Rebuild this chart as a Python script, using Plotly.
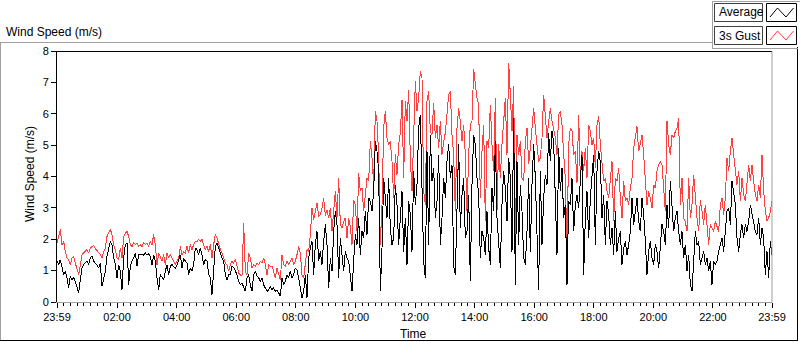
import plotly.graph_objects as go

# ---------------- data ----------------
# 430 evenly spaced readings from 23:59 to 23:59 the next day (about every 3.36 min)
n_samples = 430
sample_hours = [i * 24 / (n_samples - 1) for i in range(n_samples)]

avg_speed = [
    # 23:59 - 01:40
    1.30, 1.19, 1.35, 1.14, 0.87, 0.98, 0.77, 0.45, 0.82, 0.71, 0.77, 0.66, 0.50, 0.29, 0.71, 1.08, 1.19, 1.24,
    1.30, 1.19, 1.40, 1.46, 1.30, 1.24, 1.19, 1.08, 1.24, 0.50, 0.77, 0.98, 1.46, 1.72, 1.93, 1.83, 1.40, 1.19,
    0.77, 1.19, 0.98, 0.39, 1.40, 1.83, 1.88, 0.55, 1.14, 1.30, 1.40, 1.56, 1.14, 1.51,
    # segment 2
    1.51, 1.53, 1.49, 1.56, 1.49, 1.53, 1.46, 1.19, 1.51, 1.30, 0.77, 0.39, 0.87, 0.77, 0.71, 0.98, 1.19, 0.87,
    1.14, 1.19, 1.14, 1.08, 1.19, 1.35, 1.51, 1.08, 1.40, 1.30, 1.24, 0.87, 1.08, 0.98, 1.19, 1.72, 1.67, 1.51,
    1.72, 1.51, 1.19, 1.35, 1.30, 0.87, 0.77, 0.23, 1.14, 1.77, 1.88, 1.72, 1.51, 1.40, 1.30, 0.87, 0.71, 0.87,
    # segment 3
    0.87, 1.14, 1.11, 0.98, 0.87, 0.66, 0.55, 0.61, 0.45, 0.34, 0.77, 0.87, 0.55, 0.34, 0.87, 0.98, 0.82, 0.77,
    0.66, 0.77, 0.55, 0.45, 0.34, 0.39, 0.50, 0.39, 0.45, 0.34, 0.39, 0.29, 0.18, 0.77, 0.55, 0.66, 0.87, 0.77,
    0.98, 0.77, 0.87, 1.08, 1.03, 0.77, 0.45, 0.13, 0.34, 0.87, 0.13, 1.40, 1.72, 1.93, 0.87, 1.83, 2.25, 1.30,
    # segment 4
    1.61, 1.19, 1.93, 2.47, 1.83, 0.45, 1.40, 0.98, 2.25, 2.89, 2.47, 0.77, 2.04, 1.40, 0.98, 1.61, 1.40, 1.30,
    0.77, 0.34, 1.30, 2.15, 1.83, 2.68, 1.51, 2.25, 2.04, 2.89, 2.15, 3.32, 3.21, 2.89, 3.53, 5.12, 4.80, 4.17,
    0.34, 1.72, 3.95, 3.42, 2.68, 3.95, 2.36, 1.83, 2.04, 3.74, 3.10, 1.83, 2.89, 3.53, 1.61, 2.68, 1.19, 3.21,
    # segment 5
    2.78, 1.61, 4.17, 3.10, 3.74, 5.55, 5.97, 3.21, 1.30, 0.77, 4.80, 1.83, 5.33, 3.85, 4.27, 2.68, 3.21, 4.70,
    1.83, 2.68, 3.95, 3.32, 4.48, 5.02, 3.95, 4.38, 1.14, 0.87, 2.68, 5.02, 2.36, 3.42, 3.95, 2.04, 2.25, 3.42,
    0.66, 3.74, 5.33, 5.02, 3.95, 3.42, 1.40, 2.25, 2.04, 1.51, 2.89, 1.72, 1.19, 3.63, 2.89, 5.12, 2.68, 1.83,
    # segment 6
    1.08, 3.10, 4.17, 3.63, 2.57, 4.59, 3.95, 1.61, 5.87, 0.55, 4.48, 1.83, 3.74, 2.89, 1.40, 1.19, 2.25, 3.95,
    1.61, 3.74, 5.02, 3.95, 2.25, 0.39, 4.17, 1.83, 3.32, 4.06, 3.74, 5.40, 4.48, 5.44, 5.10, 2.89, 1.51, 4.91,
    3.53, 4.27, 2.68, 3.10, 0.55, 3.21, 3.10, 3.95, 2.25, 3.10, 3.42, 3.00, 3.74, 4.70, 0.87, 2.68, 3.53, 2.04,
    # segment 7
    3.32, 4.17, 4.70, 1.83, 4.17, 4.80, 4.48, 2.68, 3.42, 1.83, 3.21, 2.78, 1.83, 2.36, 1.51, 2.89, 1.61, 2.04,
    2.25, 1.19, 1.72, 1.93, 1.51, 1.83, 2.25, 3.32, 2.47, 2.89, 3.32, 2.57, 2.25, 3.32, 2.78, 1.93, 0.87, 1.61,
    1.93, 1.40, 1.19, 1.83, 1.61, 1.08, 1.93, 2.47, 2.25, 1.83, 3.10, 2.36, 3.85, 2.89, 2.25, 2.68, 2.89, 2.25,
    # segment 8 (to 23:59)
    1.83, 2.25, 1.40, 1.83, 0.98, 1.51, 0.55, 0.34, 1.40, 2.25, 1.83, 1.93, 1.19, 1.40, 1.61, 1.19, 1.40, 0.98,
    1.30, 0.55, 1.30, 1.19, 1.30, 1.61, 1.83, 2.04, 1.61, 2.36, 2.89, 3.00, 2.47, 3.85, 3.42, 3.10, 2.04, 1.61,
    2.15, 2.47, 2.04, 2.47, 2.25, 2.57, 3.10, 2.78, 2.47, 2.25, 2.15, 2.68, 1.83, 2.36, 2.04, 0.87, 1.61, 0.77,
    1.93, 1.51,
]

gust_speed = [
    # 23:59 - 01:40
    1.88, 2.09, 2.31, 1.83, 1.93, 1.61, 1.40, 1.35, 1.19, 1.40, 1.46, 1.24, 1.08, 0.87, 1.19, 1.51, 1.56, 1.61,
    1.67, 1.56, 1.72, 1.77, 1.80, 1.70, 1.63, 1.56, 1.51, 1.40, 1.61, 1.72, 2.09, 2.20, 2.31, 2.15, 1.83, 1.67,
    1.40, 1.35, 1.72, 1.40, 2.09, 2.20, 2.25, 2.09, 1.83, 1.77, 1.88, 1.83, 1.88, 1.77,
    # segment 2
    1.83, 1.77, 1.88, 1.83, 1.88, 1.77, 1.93, 1.83, 2.15, 1.83, 1.19, 1.56, 1.40, 1.30, 1.51, 1.19, 1.56, 1.40,
    1.51, 1.40, 1.30, 1.19, 1.30, 1.40, 1.77, 1.51, 1.61, 1.56, 1.77, 1.56, 1.83, 1.67, 1.83, 1.93, 1.93, 1.99,
    1.93, 1.99, 1.83, 1.67, 1.77, 1.61, 1.83, 1.40, 1.83, 2.15, 2.04, 1.83, 1.67, 1.56, 1.40, 1.24, 1.19, 0.98,
    # segment 3
    1.19, 1.30, 1.24, 1.35, 1.14, 0.92, 0.87, 0.82, 2.52, 0.98, 0.87, 1.56, 1.40, 1.08, 1.19, 1.14, 1.24, 1.19,
    1.30, 1.24, 1.40, 1.19, 0.87, 1.19, 1.14, 1.14, 0.98, 0.77, 1.08, 0.87, 0.71, 1.51, 1.19, 1.14, 1.30, 1.19,
    1.30, 1.40, 1.19, 1.30, 1.51, 1.77, 1.56, 0.87, 0.77, 1.19, 1.67, 1.61, 2.15, 3.00, 2.62, 2.89, 3.16, 2.73,
    # segment 4
    2.78, 3.00, 3.32, 2.75, 2.94, 2.68, 3.00, 2.25, 2.89, 3.53, 2.68, 3.95, 2.47, 2.36, 2.57, 2.68, 2.04, 2.68,
    2.41, 1.83, 3.26, 3.10, 2.25, 4.11, 3.53, 3.63, 2.89, 3.53, 3.95, 3.85, 5.12, 4.59, 3.74, 6.08, 5.76, 4.70,
    1.83, 3.10, 5.55, 6.08, 5.23, 5.02, 5.12, 4.48, 3.32, 4.70, 4.06, 5.02, 5.39, 6.45, 3.95, 6.40, 5.76, 6.77,
    # segment 5
    4.59, 3.53, 5.76, 7.04, 6.08, 6.50, 7.35, 7.14, 3.53, 3.10, 6.40, 6.72, 5.44, 5.33, 6.34, 5.23, 5.65, 4.91,
    5.76, 4.70, 5.12, 5.39, 5.97, 6.61, 6.72, 5.33, 4.70, 2.89, 5.55, 6.18, 5.76, 5.12, 5.65, 4.70, 2.89, 4.70,
    5.65, 5.76, 7.41, 6.93, 6.50, 6.29, 3.32, 4.80, 5.65, 2.57, 5.12, 4.91, 6.29, 5.02, 4.17, 6.50, 2.89, 5.02,
    # segment 6
    3.95, 5.02, 5.92, 6.50, 4.70, 7.62, 6.61, 5.44, 6.88, 1.93, 5.33, 4.70, 5.12, 3.95, 3.85, 5.12, 5.55, 4.40,
    4.91, 5.44, 6.18, 5.55, 5.02, 4.48, 4.60, 5.23, 6.61, 5.87, 5.23, 5.75, 6.18, 5.76, 5.45, 5.23, 4.70, 5.97,
    6.08, 5.65, 4.70, 3.95, 1.61, 5.02, 5.55, 5.44, 4.70, 4.80, 3.80, 5.97, 3.95, 4.80, 4.17, 4.91, 3.95, 5.65,
    # segment 7
    5.44, 5.02, 5.23, 4.27, 5.65, 5.92, 5.02, 4.27, 3.85, 3.95, 3.53, 3.32, 3.95, 4.48, 2.57, 3.95, 3.85, 4.27,
    3.32, 2.68, 3.85, 3.21, 3.32, 3.10, 3.63, 3.95, 4.91, 5.33, 5.60, 4.80, 5.12, 5.33, 4.70, 3.95, 3.10, 3.53,
    3.32, 3.00, 3.74, 3.63, 4.17, 4.38, 4.48, 4.38, 3.74, 2.89, 5.76, 5.02, 4.70, 5.33, 5.23, 5.44, 5.55, 5.87,
    # segment 8 (to 23:59)
    3.10, 3.95, 2.68, 2.57, 2.25, 3.95, 2.68, 3.10, 4.06, 3.21, 2.68, 2.25, 3.26, 2.89, 2.47, 3.10, 2.47, 1.83,
    2.47, 2.36, 2.25, 2.57, 2.41, 2.25, 3.10, 3.32, 2.78, 3.32, 4.59, 4.17, 4.80, 5.23, 4.70, 4.17, 3.74, 4.17,
    3.21, 3.95, 3.42, 3.21, 3.74, 4.38, 3.85, 4.38, 3.85, 3.42, 3.21, 3.74, 3.32, 4.70, 3.53, 2.89, 2.57, 2.68,
    2.89, 3.21,
]

tick_labels = ["23:59", "02:00", "04:00", "06:00", "08:00", "10:00", "12:00",
               "14:00", "16:00", "18:00", "20:00", "22:00", "23:59"]
tick_minutes = [0, 121, 241, 361, 481, 601, 721, 841, 961, 1081, 1201, 1321, 1440]

series_names = ["Average", "3s Gust"]
# ----------------------------------------------------------------

W, H = 800, 342
ML, MR, MT, MB = 57, 28, 51, 40
PW = W - ML - MR
PH = H - MT - MB


def px(x):
    return (x - ML) / PW


def py(y):
    return (H - MB - y) / PH


FONT = "Liberation Sans"
RED = "#ff4040"
tick_vals = [m / 60 for m in tick_minutes]
minor_vals = []
for a, b in zip(tick_vals[:-1], tick_vals[1:]):
    for k in range(1, 9):
        minor_vals.append(a + (b - a) * k / 9)

fig = go.Figure()
fig.add_trace(go.Scatter(x=sample_hours, y=gust_speed, mode="lines", name=series_names[1],
                         line=dict(color=RED, width=1), hoverinfo="skip"))
fig.add_trace(go.Scatter(x=sample_hours, y=avg_speed, mode="lines", name=series_names[0],
                         line=dict(color="#000000", width=1), hoverinfo="skip"))

shapes = []


def line(x0, y0, x1, y1, color, width=1):
    shapes.append(dict(type="line", xref="paper", yref="paper", x0=px(x0), y0=py(y0),
                       x1=px(x1), y1=py(y1), line=dict(color=color, width=width)))


def rect(x0, y0, x1, y1, color, fill="white"):
    shapes.append(dict(type="rect", xref="paper", yref="paper", x0=px(x0), y0=py(y0),
                       x1=px(x1), y1=py(y1), line=dict(color=color, width=1), fillcolor=fill))


# plot frame
line(57, 51.5, 772, 51.5, "#000000")
line(772, 51.5, 772, 302.5, "#a0a0a0")
# outer control frame
line(0, 42.5, 712, 42.5, "#a0a0a0")
line(0.5, 42.5, 0.5, 341, "#a0a0a0")
line(0, 340.5, 798, 340.5, "#000000")
line(797.5, 47, 797.5, 341, "#000000")
# legend frame
line(712, 1.5, 800, 1.5, "#a0a0a0")
line(712.5, 1.5, 712.5, 49, "#a0a0a0")
line(712, 48.5, 798, 48.5, "#a0a0a0")

# legend entries
rect(714.5, 3.5, 762.5, 21.5, "#404040")
rect(766.5, 3.5, 796.5, 21.5, "#000000")
rect(714.5, 26.5, 762.5, 44.5, "#404040")
rect(766.5, 26.5, 796.5, 44.5, "#000000")


def zig(x0, ytop, ybot, color):
    pts = [(x0, ybot), (x0 + 7.5, ytop), (x0 + 16, ybot), (x0 + 23.5, ytop)]
    path = "M " + " L ".join(f"{px(a)},{py(b)}" for a, b in pts)
    shapes.append(dict(type="path", xref="paper", yref="paper", path=path,
                       line=dict(color=color, width=1)))


zig(770, 8, 17, "#000000")
zig(770, 31, 40, RED)

annotations = [
    dict(text="Wind Speed (m/s)", x=px(4), y=py(32), xanchor="left", yanchor="middle",
         showarrow=False, xref="paper", yref="paper", font=dict(family=FONT, size=12, color="#000000")),
    dict(text="Wind Speed (m/s)", x=px(30), y=py(174), xanchor="center", yanchor="middle",
         textangle=-90, showarrow=False, xref="paper", yref="paper",
         font=dict(family=FONT, size=12, color="#000000")),
    dict(text="Time", x=px(413), y=py(334.5), xanchor="center", yanchor="middle",
         showarrow=False, xref="paper", yref="paper", font=dict(family=FONT, size=12, color="#000000")),
    dict(text=series_names[0], x=px(717), y=py(12.5), xanchor="left", yanchor="middle",
         showarrow=False, xref="paper", yref="paper", font=dict(family=FONT, size=12, color="#000000")),
    dict(text=series_names[1], x=px(717), y=py(35.5), xanchor="left", yanchor="middle",
         showarrow=False, xref="paper", yref="paper", font=dict(family=FONT, size=12, color="#000000")),
]

fig.update_layout(
    width=W, height=H, autosize=False,
    margin=dict(l=ML, r=MR, t=MT, b=MB, pad=0),
    paper_bgcolor="white", plot_bgcolor="white",
    showlegend=False,
    hovermode=False,
    shapes=shapes,
    annotations=annotations,
    font=dict(family=FONT, size=11, color="#000000"),
    xaxis=dict(
        range=[0, 24], tickmode="array", tickvals=tick_vals, ticktext=tick_labels,
        ticks="outside", ticklen=5, tickwidth=1, tickcolor="#000000",
        showline=True, linecolor="#a0a0a0", linewidth=1,
        showgrid=False, zeroline=False, tickfont=dict(family=FONT, size=11),
        minor=dict(tickmode="array", tickvals=minor_vals, ticks="outside", ticklen=3,
                   tickwidth=1, tickcolor="#000000", showgrid=False),
    ),
    yaxis=dict(
        range=[0, 8], tickmode="linear", tick0=0, dtick=1,
        ticks="outside", ticklen=5, tickwidth=1, tickcolor="#000000",
        showline=True, linecolor="#000000", linewidth=1,
        showgrid=False, zeroline=False, tickfont=dict(family=FONT, size=11),
    ),
)

fig.write_html("out.html", config={"displayModeBar": False, "staticPlot": True})

# remove the browser's default page margin so the figure sits at the window's top-left corner,
# and draw the data lines with hard pixel edges like the original instrument display
with open("out.html", "r", encoding="utf-8") as f:
    html = f.read()
html = html.replace(
    "<head>",
    "<head><style>html,body{margin:0;padding:0;overflow:hidden;}"
    "path.js-line{shape-rendering:crispEdges;}</style>",
    1,
)
with open("out.html", "w", encoding="utf-8") as f:
    f.write(html)
